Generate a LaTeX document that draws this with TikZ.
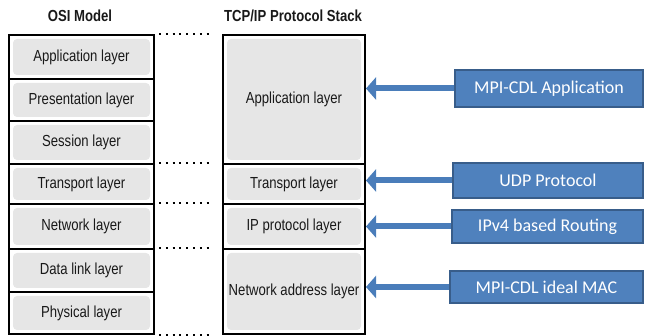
\documentclass[tikz,border=0pt]{standalone}
\usepackage{fontspec}
\newfontfamily\condf{Liberation Sans}[FakeStretch=0.82]
\newfontfamily\calf{Carlito}
\usetikzlibrary{arrows.meta}
\definecolor{innergray}{HTML}{E6E6E6}
\definecolor{bluefill}{HTML}{4F81BD}
\definecolor{blueedge}{HTML}{385D8A}
\definecolor{arrowblue}{HTML}{4A7DBA}
\tikzset{
  layer/.style={draw=black, line width=2pt, inner sep=0pt, anchor=north west,
    font=\condf\fontsize{16}{18}\selectfont, text=black!90,
    path picture={\fill[innergray, rounded corners=4pt]
      ([shift={(4pt,-4pt)}]path picture bounding box.north west) rectangle
      ([shift={(-4pt,4pt)}]path picture bounding box.south east);}},
  osirow/.style={layer, minimum width=145pt},
  tcprow/.style={layer, minimum width=142pt},
  title/.style={font=\condf\bfseries\fontsize{16}{18}\selectfont, text=black!90},
  bluebox/.style={draw=blueedge, fill=bluefill, line width=1.5pt, inner sep=0pt,
    text=white, font=\calf\fontsize{18}{20}\selectfont},
  dotline/.style={line width=2.2pt, dash pattern=on 2pt off 4.8pt, shorten <=4pt, shorten >=9pt},
  feed/.style={arrowblue, line width=6pt, -{Triangle[width=22pt,length=10pt]}},
}
\begin{document}
\begin{tikzpicture}[x=1pt,y=-1pt]
\useasboundingbox (0,0) rectangle (646,336);
% titles
\node[title] (osititle) at (80,16) {OSI Model};
\node[title] (tcptitle) at (293,16) {TCP/IP Protocol Stack};
% OSI rows
\node[osirow, minimum height=44pt] (o1) at (8,34) {Application layer};
\node[osirow, minimum height=42pt] (o2) at (8,78) {Presentation layer};
\node[osirow, minimum height=43pt] (o3) at (8,120) {Session layer};
\node[osirow, minimum height=40pt] (o4) at (8,163) {Transport layer};
\node[osirow, minimum height=45pt] (o5) at (8,203) {Network layer};
\node[osirow, minimum height=43pt] (o6) at (8,248) {Data link layer};
\node[osirow, minimum height=42pt] (o7) at (8,291) {Physical layer};
% TCP/IP rows
\node[tcprow, minimum height=129pt] (t1) at (222,34) {Application layer};
\node[tcprow, minimum height=40pt] (t2) at (222,163) {Transport layer};
\node[tcprow, minimum height=45pt] (t3) at (222,203) {IP protocol layer};
\node[tcprow, minimum height=85pt] (t4) at (222,248) {Network address layer};
% dotted correspondences
\draw[dotline] (o1.north east) -- (t1.north west);
\draw[dotline] (o4.north east) -- (t2.north west);
\draw[dotline] (o5.north east) -- (t3.north west);
\draw[dotline] (o6.north east) -- (t4.north west);
\draw[dotline] (o7.south east) -- (t4.south west);
% blue boxes
\node[bluebox, minimum width=188pt, minimum height=37pt] (b1) at (549,88.5) {MPI-CDL Application};
\node[bluebox, minimum width=190pt, minimum height=35pt] (b2) at (548,180.5) {UDP Protocol};
\node[bluebox, minimum width=191pt, minimum height=33pt] (b3) at (547.5,226.5) {IPv4 based Routing};
\node[bluebox, minimum width=193pt, minimum height=32pt] (b4) at (546.5,287) {MPI-CDL ideal MAC};
% arrows
\draw[feed] (b1.west) -- (b1.west -| t1.east);
\draw[feed] (b2.west) -- (b2.west -| t2.east);
\draw[feed] (b3.west) -- (b3.west -| t3.east);
\draw[feed] (b4.west) -- (b4.west -| t4.east);
\end{tikzpicture}
\end{document}
